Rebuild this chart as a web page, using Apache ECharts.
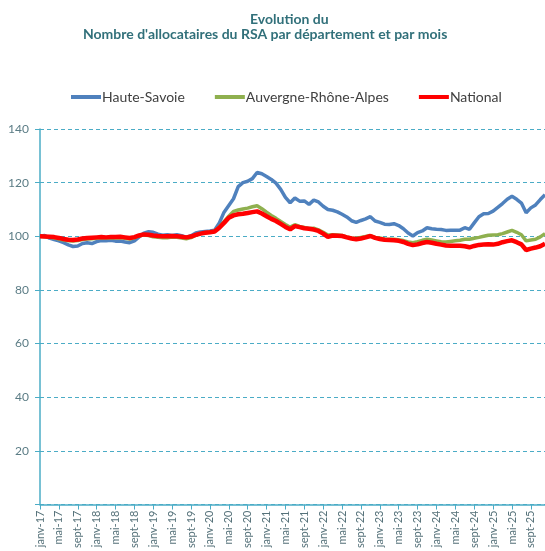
<!DOCTYPE html>
<html>
<head>
<meta charset="utf-8">
<script src="https://cdn.jsdelivr.net/npm/echarts@6/dist/echarts.min.js"></script>
<style>html,body{margin:0;padding:0;background:#fff;}#c{width:545px;height:551px;}</style>
</head>
<body>
<div id="c"></div>
<script>
const monthNames = ["janv","févr","mars","avr","mai","juin","juil","août","sept","oct","nov","déc"];
const years = ["17","18","19","20","21","22","23","24","25"];
const categories = [];
years.forEach(y => monthNames.forEach(m => categories.push(m + "-" + y)));

const seriesNames = ["Haute-Savoie", "Auvergne-Rhône-Alpes", "National"];

const hauteSavoie = [
100,100.3,99.3,98.8,98.3,97.6,96.8,96.2,96.4,97.3,97.6,97.3,
98.0,98.4,98.3,98.5,98.2,98.2,97.9,97.6,98.3,99.8,101.2,101.7,
101.5,100.8,100.4,100.6,100.3,100.6,100.2,99.6,100.2,101.2,101.6,101.8,
102.0,102.3,105,109,111.5,114,118.5,120,120.5,121.5,123.8,123.3,
122.3,121.2,119.8,117.5,114.5,112.5,114.3,113.1,113.2,111.9,113.5,112.8,
111.2,110.0,109.7,109.1,108.2,107.2,105.8,105.2,105.9,106.5,107.3,105.7,
105.2,104.5,104.4,104.7,104.0,102.8,101.2,100.1,101.4,102.0,103.2,102.8,
102.6,102.5,102.2,102.3,102.3,102.3,103.2,102.6,105,107.3,108.4,108.5,
109.4,110.8,112.2,113.8,114.9,113.8,112.4,108.8,110.6,111.7,113.7,115.5
];
const aura = [
100,99.8,99.6,99.4,99.0,98.6,98.3,98.2,98.4,98.8,99.0,99.1,
99.3,99.5,99.4,99.5,99.4,99.5,99.3,99.0,99.4,100.2,100.5,100.3,
99.8,99.6,99.5,99.5,99.7,99.6,99.4,99.1,99.5,100.4,101.0,101.3,
101.6,101.9,103.5,105.5,107.5,109.3,109.8,110.2,110.5,111,111.4,110.3,
109,107.8,106.7,105.5,104.4,103.4,104.3,103.7,103.3,102.9,103.0,102.4,
101.5,100.5,100.6,100.5,100.3,99.8,99.4,99.3,99.6,99.9,100.2,99.6,
99.4,99.0,98.9,98.9,98.7,98.4,97.9,97.6,98.0,98.5,98.9,98.6,
98.3,98.0,97.9,98.1,98.3,98.5,98.9,98.9,99.3,99.6,100.0,100.4,
100.5,100.6,101.0,101.6,102.2,101.5,100.6,98.3,98.6,98.9,99.8,101
];
const national = [
100,99.9,99.8,99.7,99.4,99.0,98.7,98.6,98.8,99.2,99.4,99.5,
99.6,99.7,99.6,99.7,99.7,99.8,99.6,99.4,99.7,100.3,100.7,100.6,
100.3,100.1,100.0,100.0,100.1,100.0,99.8,99.6,99.9,100.5,101.0,101.3,
101.5,101.8,103.2,105,106.9,107.8,108.2,108.4,108.7,109,109.3,108.5,
107.5,106.5,105.7,104.6,103.5,102.6,103.8,103.4,103.0,102.8,102.5,102.0,
101.0,99.8,100.3,100.2,100.1,99.6,99.2,98.9,99.2,99.6,100.1,99.4,
99.0,98.7,98.6,98.5,98.3,97.9,97.2,96.7,97.0,97.5,97.9,97.6,
97.2,96.9,96.6,96.5,96.5,96.5,96.3,95.9,96.4,96.8,96.9,97.0,
96.9,97.2,97.8,98.2,98.5,97.8,97.0,94.9,95.4,95.8,96.3,97.2
];
const cats = categories.slice(0, national.length);

const titleLine1 = "Evolution du";
const titleLine2 = "Nombre d'allocataires du RSA par département et par mois";

const teal = "#4BACC6";
const chart = echarts.init(document.getElementById('c'));
chart.setOption({
  animation: false,
  backgroundColor: '#fff',
  title: [
    { text: titleLine1, left: 245, top: 7, textStyle: { fontFamily: 'Lato', fontWeight: 'bold', fontSize: 14, color: '#31707A' } },
    { text: titleLine2, left: 78, top: 22, textStyle: { fontFamily: 'Lato', fontWeight: 'bold', fontSize: 14, color: '#31707A' } }
  ],
  legend: {
    top: 85, left: 66,
    itemWidth: 30, itemHeight: 4, itemGap: 30,
    textStyle: { fontFamily: 'Lato', fontSize: 14, color: '#404040', padding: [0, 0, 0, -4] },
    data: seriesNames.map(n => ({ name: n, icon: 'rect' }))
  },
  grid: { left: 40, right: -2, top: 129, bottom: 44, containLabel: false },
  xAxis: {
    type: 'category', data: cats, boundaryGap: false,
    axisLine: { lineStyle: { color: teal, width: 1.5 } },
    axisTick: { interval: 3, length: 5, lineStyle: { color: teal } },
    axisLabel: { interval: 3, rotate: 90, margin: 6, fontFamily: 'Lato', fontSize: 11, color: '#56727A' },
    splitLine: { show: false }
  },
  yAxis: {
    type: 'value', min: 0, max: 140, interval: 20,
    axisLine: { show: true, lineStyle: { color: teal, width: 1.5 } },
    axisTick: { show: true, length: 5, lineStyle: { color: teal } },
    axisLabel: { margin: 11, fontFamily: 'Lato', fontSize: 12, color: '#5B7C85', formatter: v => v === 0 ? '' : String(v) },
    splitLine: { lineStyle: { color: teal, type: [4, 3], width: 1 } }
  },
  series: [
    { name: seriesNames[0], type: 'line', data: hauteSavoie, showSymbol: false, symbol: 'none', lineStyle: { color: '#4F81BD', width: 3.5 }, itemStyle: { color: '#4F81BD' } },
    { name: seriesNames[1], type: 'line', data: aura, showSymbol: false, symbol: 'none', lineStyle: { color: '#8FB04F', width: 3.5 }, itemStyle: { color: '#8FB04F' } },
    { name: seriesNames[2], type: 'line', data: national, showSymbol: false, symbol: 'none', lineStyle: { color: '#FF0000', width: 4.5 }, itemStyle: { color: '#FF0000' } }
  ]
});
</script>
</body>
</html>
